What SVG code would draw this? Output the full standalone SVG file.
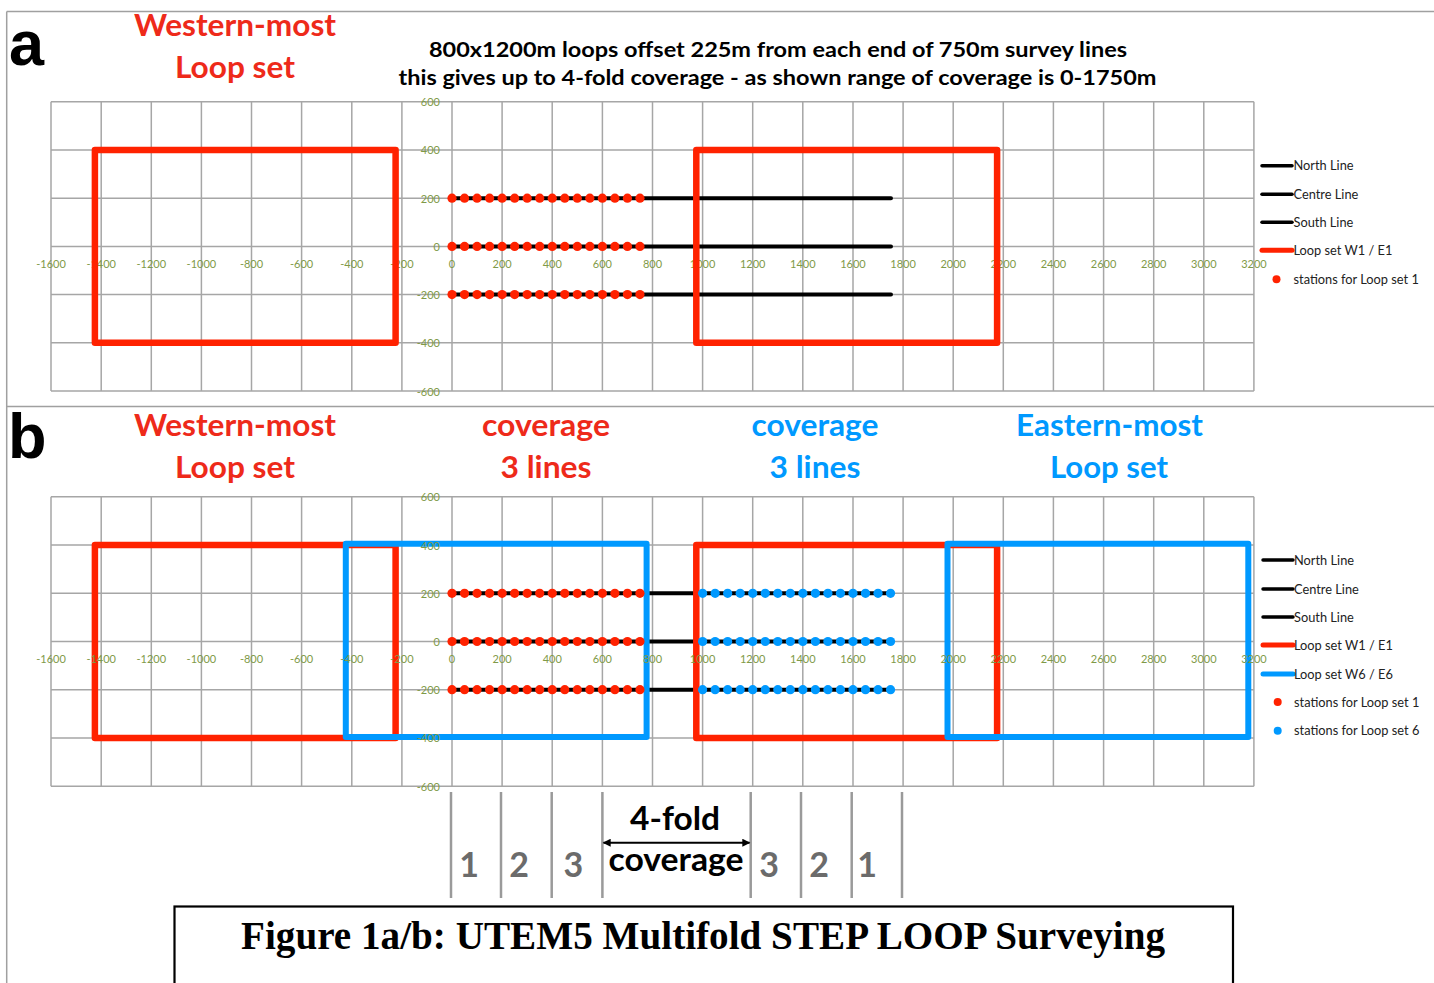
<svg xmlns="http://www.w3.org/2000/svg" xmlns:xlink="http://www.w3.org/1999/xlink" width="1434" height="983" viewBox="0 0 1434 983">
<style>
.grid{fill:none;stroke:#A6A6A6;stroke-width:1.5}
.ax{font-family:Lato,"Liberation Sans",sans-serif;font-size:11px;fill:#7F9A48}
.axx{text-anchor:middle}
.axy{text-anchor:end}
.sline{stroke:#000;stroke-width:4;stroke-linecap:round}
.rloop{fill:none;stroke:#FF2200;stroke-width:6.5;stroke-linejoin:round}
.bloop{fill:none;stroke:#0099FF;stroke-width:6;stroke-linejoin:round}
.rdot{fill:#FF2200}
.bdot{fill:#0099FF}
.leg{font-family:Lato,"Liberation Sans",sans-serif;font-size:12.8px;fill:#222}
.lgk{stroke:#000;stroke-width:3.5;stroke-linecap:round}
.lgr{stroke:#FF2200;stroke-width:5;stroke-linecap:round}
.lgb{stroke:#0099FF;stroke-width:5;stroke-linecap:round}
.ttl{font-family:Lato,"Liberation Sans",sans-serif;font-weight:bold;font-size:31px;text-anchor:middle}
.red{fill:#EE2A1A}
.blue{fill:#0099FF}
.big{font-family:"Liberation Sans",Arial,sans-serif;font-weight:bold;font-size:63px;fill:#000}
.sub{font-family:Lato,"Liberation Sans",sans-serif;font-weight:bold;font-size:20.5px;fill:#000;text-anchor:middle}
.num{font-family:Lato,"Liberation Sans",sans-serif;font-weight:bold;font-size:34px;fill:#6B6B6B;text-anchor:middle}
.cov{font-family:Lato,"Liberation Sans",sans-serif;font-weight:bold;font-size:33px;fill:#000;text-anchor:middle}
.div{stroke:#9A9A9A;stroke-width:2.5}
.frame{stroke:#A0A0A0;stroke-width:1.5;fill:none}
</style>
<defs>
<path id="gridPath" class="grid" d="M51 101.7V391.1M101.2 101.7V391.1M151.3 101.7V391.1M201.4 101.7V391.1M251.5 101.7V391.1M301.6 101.7V391.1M351.8 101.7V391.1M401.9 101.7V391.1M452 101.7V391.1M502.1 101.7V391.1M552.2 101.7V391.1M602.4 101.7V391.1M652.5 101.7V391.1M702.6 101.7V391.1M752.7 101.7V391.1M802.8 101.7V391.1M853 101.7V391.1M903.1 101.7V391.1M953.2 101.7V391.1M1003.3 101.7V391.1M1053.4 101.7V391.1M1103.6 101.7V391.1M1153.7 101.7V391.1M1203.8 101.7V391.1M1253.9 101.7V391.1M51 101.7H1253.9M51 150H1253.9M51 198.2H1253.9M51 246.4H1253.9M51 294.6H1253.9M51 342.8H1253.9M51 391.1H1253.9"/>
<g id="redRow" class="rdot">
<circle cx="0" cy="0" r="4.6"/><circle cx="12.53" cy="0" r="4.6"/><circle cx="25.06" cy="0" r="4.6"/><circle cx="37.59" cy="0" r="4.6"/><circle cx="50.12" cy="0" r="4.6"/><circle cx="62.65" cy="0" r="4.6"/><circle cx="75.18" cy="0" r="4.6"/><circle cx="87.71" cy="0" r="4.6"/><circle cx="100.24" cy="0" r="4.6"/><circle cx="112.77" cy="0" r="4.6"/><circle cx="125.3" cy="0" r="4.6"/><circle cx="137.83" cy="0" r="4.6"/><circle cx="150.36" cy="0" r="4.6"/><circle cx="162.89" cy="0" r="4.6"/><circle cx="175.42" cy="0" r="4.6"/><circle cx="187.95" cy="0" r="4.6"/>
</g>
<g id="blueRow" class="bdot">
<circle cx="0" cy="0" r="4.6"/><circle cx="12.53" cy="0" r="4.6"/><circle cx="25.06" cy="0" r="4.6"/><circle cx="37.59" cy="0" r="4.6"/><circle cx="50.12" cy="0" r="4.6"/><circle cx="62.65" cy="0" r="4.6"/><circle cx="75.18" cy="0" r="4.6"/><circle cx="87.71" cy="0" r="4.6"/><circle cx="100.24" cy="0" r="4.6"/><circle cx="112.77" cy="0" r="4.6"/><circle cx="125.3" cy="0" r="4.6"/><circle cx="137.83" cy="0" r="4.6"/><circle cx="150.36" cy="0" r="4.6"/><circle cx="162.89" cy="0" r="4.6"/><circle cx="175.42" cy="0" r="4.6"/><circle cx="187.95" cy="0" r="4.6"/>
</g>
<marker id="ah" viewBox="0 0 10 10" refX="9" refY="5" markerWidth="10" markerHeight="8" markerUnits="userSpaceOnUse" orient="auto-start-reverse"><path d="M0 0L10 5L0 10z" fill="#000"/></marker>
</defs>
<rect width="1434" height="983" fill="#fff"/>
<g id="frame">
<path class="frame" d="M6.7 11.5H1434M6.7 11.5V983M6.7 406.6H1434"/>
</g>

<!-- ===== Panel a ===== -->
<g id="panel-a-titles">
<text class="big" x="9" y="65">a</text>
<text class="ttl red" x="235" y="36" textLength="202" lengthAdjust="spacingAndGlyphs">Western-most</text>
<text class="ttl red" x="235" y="78" textLength="120" lengthAdjust="spacingAndGlyphs">Loop set</text>
<text class="sub" x="778" y="56.5" textLength="698" lengthAdjust="spacingAndGlyphs">800x1200m loops offset 225m from each end of 750m survey lines</text>
<text class="sub" x="777.5" y="85" textLength="758" lengthAdjust="spacingAndGlyphs">this gives up to 4-fold coverage - as shown range of coverage is 0-1750m</text>
</g>
<g id="chart-a">
<use xlink:href="#gridPath"/>
<g class="ax axx">
<text x="51" y="268">-1600</text><text x="101.2" y="268">-1400</text><text x="151.3" y="268">-1200</text><text x="201.4" y="268">-1000</text><text x="251.5" y="268">-800</text><text x="301.6" y="268">-600</text><text x="351.8" y="268">-400</text><text x="401.9" y="268">-200</text><text x="452" y="268">0</text><text x="502.1" y="268">200</text><text x="552.2" y="268">400</text><text x="602.4" y="268">600</text><text x="652.5" y="268">800</text><text x="702.6" y="268">1000</text><text x="752.7" y="268">1200</text><text x="802.8" y="268">1400</text><text x="853" y="268">1600</text><text x="903.1" y="268">1800</text><text x="953.2" y="268">2000</text><text x="1003.3" y="268">2200</text><text x="1053.4" y="268">2400</text><text x="1103.6" y="268">2600</text><text x="1153.7" y="268">2800</text><text x="1203.8" y="268">3000</text><text x="1253.9" y="268">3200</text>
</g>
<g class="ax axy">
<text x="440" y="106">600</text><text x="440" y="154.4">400</text><text x="440" y="202.6">200</text><text x="440" y="250.8">0</text><text x="440" y="299">-200</text><text x="440" y="347.2">-400</text><text x="440" y="395.5">-600</text>
</g>
<g id="lines-a">
<path class="sline" d="M452 198.2H891M452 246.4H891M452 294.6H891"/>
</g>
<rect id="loop-a-W1" class="rloop" x="94.9" y="150" width="300.7" height="192.8"/>
<rect id="loop-a-E1" class="rloop" x="696.3" y="150" width="300.8" height="192.8"/>
<g id="stations-a">
<use xlink:href="#redRow" x="452" y="198.2"/>
<use xlink:href="#redRow" x="452" y="246.4"/>
<use xlink:href="#redRow" x="452" y="294.6"/>
</g>
</g>
<g id="legend-a">
<line class="lgk" x1="1262" y1="165.7" x2="1292" y2="165.7"/>
<text class="leg" x="1293.5" y="170.2">North Line</text>
<line class="lgk" x1="1262" y1="194.3" x2="1292" y2="194.3"/>
<text class="leg" x="1293.5" y="198.8">Centre Line</text>
<line class="lgk" x1="1262" y1="222.3" x2="1292" y2="222.3"/>
<text class="leg" x="1293.5" y="226.8">South Line</text>
<line class="lgr" x1="1262" y1="250.3" x2="1292" y2="250.3"/>
<text class="leg" x="1293.5" y="254.8">Loop set W1 / E1</text>
<circle class="rdot" cx="1276.5" cy="279.3" r="4"/>
<text class="leg" x="1293.5" y="283.8">stations for Loop set 1</text>
</g>

<!-- ===== Panel b ===== -->
<g id="panel-b-titles">
<text class="big" x="8" y="458">b</text>
<text class="ttl red" x="235" y="436" textLength="202" lengthAdjust="spacingAndGlyphs">Western-most</text>
<text class="ttl red" x="235" y="478" textLength="120" lengthAdjust="spacingAndGlyphs">Loop set</text>
<text class="ttl red" x="546" y="436" textLength="128" lengthAdjust="spacingAndGlyphs">coverage</text>
<text class="ttl red" x="546" y="478" textLength="91" lengthAdjust="spacingAndGlyphs">3 lines</text>
<text class="ttl blue" x="815" y="436" textLength="127" lengthAdjust="spacingAndGlyphs">coverage</text>
<text class="ttl blue" x="815" y="478" textLength="91" lengthAdjust="spacingAndGlyphs">3 lines</text>
<text class="ttl blue" x="1109.5" y="436" textLength="187" lengthAdjust="spacingAndGlyphs">Eastern-most</text>
<text class="ttl blue" x="1109" y="478" textLength="118" lengthAdjust="spacingAndGlyphs">Loop set</text>
</g>
<g id="chart-b">
<use xlink:href="#gridPath" transform="translate(0,395.1)"/>
<g id="lines-b">
<path class="sline" d="M452 593.3H891M452 641.5H891M452 689.7H891"/>
</g>
<rect id="loop-b-W1" class="rloop" x="94.9" y="545.1" width="300.7" height="192.8"/>
<rect id="loop-b-E1" class="rloop" x="696.3" y="545.1" width="300.8" height="192.8"/>
<rect id="loop-b-W6" class="bloop" x="345.8" y="543.8" width="300.8" height="193.3"/>
<rect id="loop-b-E6" class="bloop" x="947.5" y="543.8" width="300.8" height="193.3"/>
<g class="ax axx">
<text x="51" y="663">-1600</text><text x="101.2" y="663">-1400</text><text x="151.3" y="663">-1200</text><text x="201.4" y="663">-1000</text><text x="251.5" y="663">-800</text><text x="301.6" y="663">-600</text><text x="351.8" y="663">-400</text><text x="401.9" y="663">-200</text><text x="452" y="663">0</text><text x="502.1" y="663">200</text><text x="552.2" y="663">400</text><text x="602.4" y="663">600</text><text x="652.5" y="663">800</text><text x="702.6" y="663">1000</text><text x="752.7" y="663">1200</text><text x="802.8" y="663">1400</text><text x="853" y="663">1600</text><text x="903.1" y="663">1800</text><text x="953.2" y="663">2000</text><text x="1003.3" y="663">2200</text><text x="1053.4" y="663">2400</text><text x="1103.6" y="663">2600</text><text x="1153.7" y="663">2800</text><text x="1203.8" y="663">3000</text><text x="1253.9" y="663">3200</text>
</g>
<g class="ax axy">
<text x="440" y="501.1">600</text><text x="440" y="549.5">400</text><text x="440" y="597.7">200</text><text x="440" y="645.9">0</text><text x="440" y="694.1">-200</text><text x="440" y="742.3">-400</text><text x="440" y="790.6">-600</text>
</g>
<g id="stations-b">
<use xlink:href="#redRow" x="452" y="593.3"/>
<use xlink:href="#redRow" x="452" y="641.5"/>
<use xlink:href="#redRow" x="452" y="689.7"/>
<use xlink:href="#blueRow" x="702.6" y="593.3"/>
<use xlink:href="#blueRow" x="702.6" y="641.5"/>
<use xlink:href="#blueRow" x="702.6" y="689.7"/>
</g>
</g>
<g id="legend-b">
<line class="lgk" x1="1263" y1="560" x2="1293" y2="560"/>
<text class="leg" x="1294" y="564.5">North Line</text>
<line class="lgk" x1="1263" y1="589" x2="1293" y2="589"/>
<text class="leg" x="1294" y="593.5">Centre Line</text>
<line class="lgk" x1="1263" y1="617" x2="1293" y2="617"/>
<text class="leg" x="1294" y="621.5">South Line</text>
<line class="lgr" x1="1263" y1="645" x2="1293" y2="645"/>
<text class="leg" x="1294" y="649.5">Loop set W1 / E1</text>
<line class="lgb" x1="1263" y1="674" x2="1293" y2="674"/>
<text class="leg" x="1294" y="678.5">Loop set W6 / E6</text>
<circle class="rdot" cx="1277.7" cy="702" r="4"/>
<text class="leg" x="1294" y="706.5">stations for Loop set 1</text>
<circle class="bdot" cx="1277.7" cy="730.7" r="4"/>
<text class="leg" x="1294" y="735.2">stations for Loop set 6</text>
</g>

<!-- ===== Coverage annotation ===== -->
<g id="coverage">
<path class="div" d="M451 792V898M501 792V898M551.7 792V898M602.4 792V898M750.7 792V898M801 792V898M851.7 792V898M902 792V898"/>
<text class="num" x="469" y="877">1</text>
<text class="num" x="519" y="877">2</text>
<text class="num" x="573.4" y="877">3</text>
<text class="num" x="769" y="877">3</text>
<text class="num" x="819" y="877">2</text>
<text class="num" x="867" y="877">1</text>
<text class="cov" x="675" y="830" textLength="90" lengthAdjust="spacingAndGlyphs">4-fold</text>
<text class="cov" x="676" y="871" textLength="135" lengthAdjust="spacingAndGlyphs">coverage</text>
</g>
<g id="connectors">
<line x1="603.5" y1="842.7" x2="749.5" y2="842.7" stroke="#000" stroke-width="2" marker-start="url(#ah)" marker-end="url(#ah)"/>
</g>

<!-- ===== Caption ===== -->
<g id="caption">
<rect x="174.5" y="906.5" width="1058.5" height="90" fill="none" stroke="#000" stroke-width="2.2"/>
<text x="703" y="949" font-family="'Liberation Serif','Times New Roman',serif" font-weight="bold" font-size="39" text-anchor="middle" textLength="924" lengthAdjust="spacingAndGlyphs" fill="#000">Figure 1a/b: UTEM5 Multifold STEP LOOP Surveying</text>
</g>
</svg>
